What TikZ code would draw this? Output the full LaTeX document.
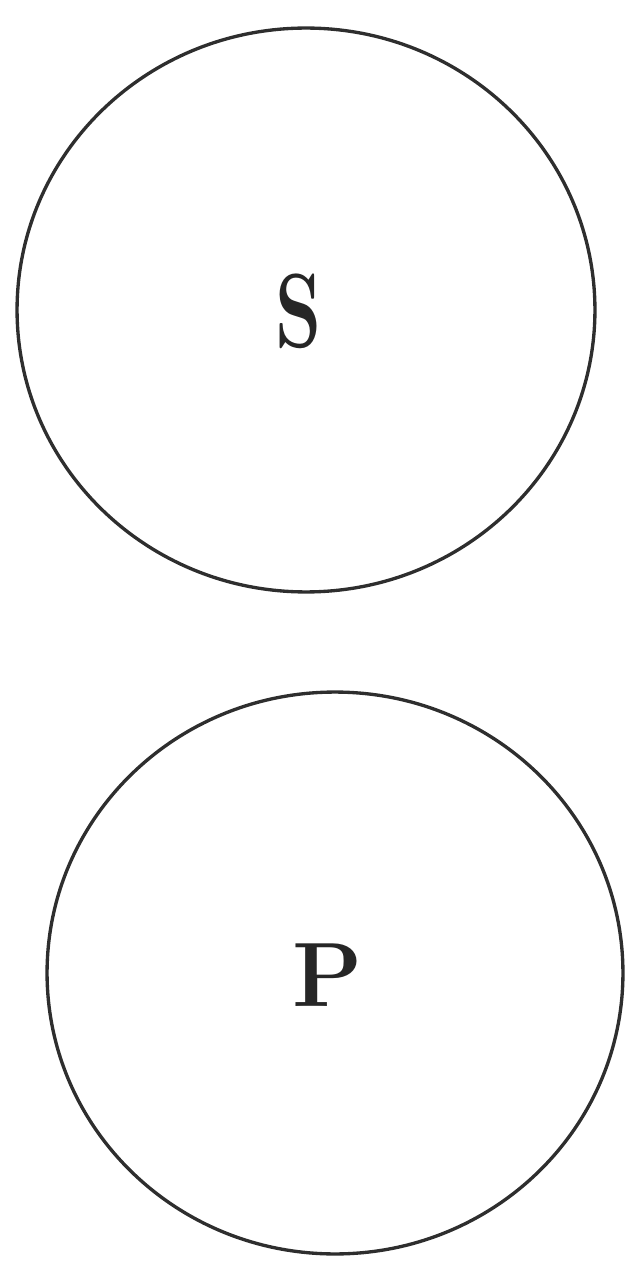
\documentclass[tikz,border=0pt]{standalone}
\usetikzlibrary{shapes.geometric}
\begin{document}
\begin{tikzpicture}[x=0.02cm,y=-0.02cm,
  disc/.style={draw=black!82,line width=1.9pt,ellipse,inner sep=0pt},
  lbl/.style={text=black!85,inner sep=0pt}]
\useasboundingbox (0,0) rectangle (633,1266);
\node[disc,minimum width=11.56cm,minimum height=11.28cm] (s) at (306,310) {};
\node[disc,minimum width=11.52cm,minimum height=11.24cm] (p) at (335,973) {};
\node[lbl,font=\fontsize{60}{70}\selectfont\bfseries,xscale=0.7] (sl) at (299,311) {S};
\node[lbl,font=\fontsize{52}{64}\selectfont\bfseries] (pl) at (328,975) {P};
\end{tikzpicture}
\end{document}
